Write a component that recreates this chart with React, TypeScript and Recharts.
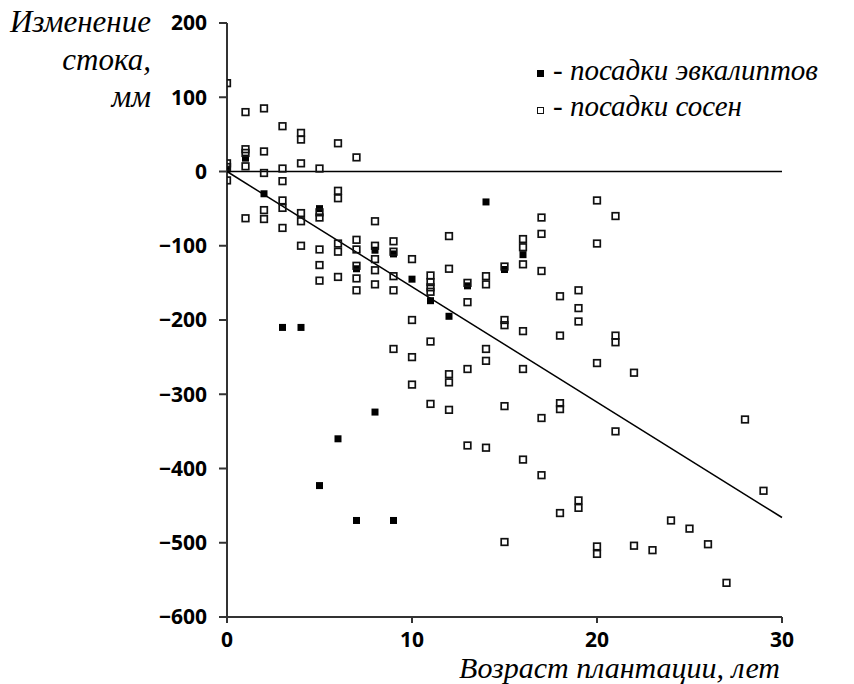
import {
  ScatterChart, Scatter, XAxis, YAxis, ReferenceLine,
} from 'recharts';

// age of plantation (years), change in runoff (mm)
const EUCALYPTUS: [number, number][] = [
  [0, 3], [1, 18], [2, -30], [3, -210], [4, -210], [5, -50], [5, -423], [6, -360],
  [7, -131], [7, -470], [8, -106], [8, -324], [9, -111], [9, -470], [10, -145],
  [11, -174], [12, -195], [13, -154], [14, -41], [15, -132], [16, -112],
];

const PINE: [number, number][] = [
  [0, 119], [0, 11], [0, 6], [0, -12],
  [1, 80], [1, 30], [1, 25], [1, 7], [1, -63],
  [2, 85], [2, 27], [2, -2], [2, -52], [2, -64],
  [3, 61], [3, 4], [3, -13], [3, -39], [3, -49], [3, -76],
  [4, 52], [4, 43], [4, 11], [4, -56], [4, -67], [4, -100],
  [5, 4], [5, -55], [5, -62], [5, -105], [5, -126], [5, -147],
  [6, 38], [6, -26], [6, -36], [6, -97], [6, -108], [6, -142],
  [7, 19], [7, -92], [7, -105], [7, -127], [7, -144], [7, -160],
  [8, -67], [8, -100], [8, -118], [8, -133], [8, -152],
  [9, -94], [9, -108], [9, -141], [9, -160], [9, -239],
  [10, -118], [10, -200], [10, -250], [10, -287],
  [11, -140], [11, -149], [11, -156], [11, -162], [11, -229], [11, -313],
  [12, -87], [12, -131], [12, -273], [12, -284], [12, -321],
  [13, -150], [13, -176], [13, -266], [13, -369],
  [14, -141], [14, -152], [14, -239], [14, -255], [14, -372],
  [15, -128], [15, -200], [15, -207], [15, -316], [15, -499],
  [16, -91], [16, -102], [16, -125], [16, -215], [16, -266], [16, -388],
  [17, -62], [17, -84], [17, -134], [17, -332], [17, -409],
  [18, -168], [18, -221], [18, -312], [18, -320], [18, -460],
  [19, -160], [19, -184], [19, -202], [19, -443], [19, -453],
  [20, -39], [20, -97], [20, -258], [20, -505], [20, -515],
  [21, -60], [21, -221], [21, -230], [21, -350],
  [22, -271], [22, -504],
  [23, -510], [24, -470], [25, -481], [26, -502], [27, -554], [28, -334], [29, -430],
];

// fitted trend line endpoints
const TREND: [number, number][] = [[0, 0], [30, -466]];

const X_TICKS = [0, 10, 20, 30];
const Y_TICKS = [-600, -500, -400, -300, -200, -100, 0, 100, 200];

const LEGEND_ITEMS = [
  { label: '- посадки эвкалиптов', filled: true },
  { label: '- посадки сосен', filled: false },
];

const Y_TITLE = ['Изменение', 'стока,', 'мм'];
const X_TITLE = 'Возраст плантации, лет';

const toPoints = (rows: [number, number][]) => rows.map(([x, y]) => ({ x, y }));

const SERIF = '"Liberation Serif", "DejaVu Serif", serif';
const SANS = '"Open Sans", "DejaVu Sans", sans-serif';

function FilledSquare(props: any) {
  const { cx, cy } = props;
  return <rect x={cx - 3.5} y={cy - 3.5} width={7} height={7} fill="#000" />;
}

function OpenSquare(props: any) {
  const { cx, cy } = props;
  return (
    <rect x={cx - 3.3} y={cy - 3.3} width={6.6} height={6.6} fill="none" stroke="#111" strokeWidth={1.7} />
  );
}

const fmt = (v: number) => String(v).replace('-', '\u2212');

const titleStyle = {
  position: 'absolute' as const,
  fontFamily: SERIF, fontStyle: 'italic', fontSize: 31, lineHeight: '37.5px', color: '#000',
  whiteSpace: 'nowrap' as const,
};

export default function App() {
  return (
    <div style={{ position: 'absolute', left: 0, top: 0, width: 854, height: 684, background: '#fff' }}>
      <ScatterChart width={854} height={684} margin={{ top: 23, right: 72, bottom: 0, left: 0 }}>
        <XAxis
          type="number" dataKey="x" domain={[0, 30]} ticks={X_TICKS} interval={0}
          height={67} tickSize={6} tickMargin={9}
          axisLine={{ stroke: '#333', strokeWidth: 2 }} tickLine={{ stroke: '#333', strokeWidth: 2 }}
          tick={{ fontFamily: SANS, fontSize: 21, fontWeight: 700, fill: '#000' }}
          allowDataOverflow
        />
        <YAxis
          type="number" dataKey="y" domain={[-600, 200]} ticks={Y_TICKS} interval={0}
          width={227} tickSize={8} tickMargin={12} tickFormatter={fmt}
          axisLine={{ stroke: '#333', strokeWidth: 2 }} tickLine={{ stroke: '#333', strokeWidth: 2 }}
          tick={{ fontFamily: SANS, fontSize: 21, fontWeight: 700, fill: '#000' }}
          allowDataOverflow
        />
        <ReferenceLine y={0} stroke="#000" strokeWidth={1.5} />
        <ReferenceLine
          segment={TREND.map(([x, y]) => ({ x, y }))}
          stroke="#000" strokeWidth={1.5}
        />
        <Scatter
          name="эвкалипты" data={toPoints(EUCALYPTUS)} shape={FilledSquare}
          isAnimationActive={false}
        />
        <Scatter
          name="сосны" data={toPoints(PINE)} shape={OpenSquare}
          isAnimationActive={false}
        />
      </ScatterChart>

      {/* legend */}
      {LEGEND_ITEMS.map((item, i) => (
        <div key={item.label}>
          <span
            style={{
              position: 'absolute', left: 537, top: 70 + 36.5 * i,
              width: item.filled ? 7 : 5, height: item.filled ? 7 : 5,
              background: item.filled ? '#000' : 'transparent',
              border: item.filled ? 'none' : '1.5px solid #111',
            }}
          />
          <div style={{ ...titleStyle, fontSize: 29, left: 553, top: 51.5 + 36.5 * i }}>{item.label}</div>
        </div>
      ))}

      {/* y-axis title */}
      <div style={{ ...titleStyle, left: 0, top: 3, width: 151, textAlign: 'right' }}>
        {Y_TITLE.map((line) => <div key={line}>{line}</div>)}
      </div>

      {/* x-axis title */}
      <div style={{ ...titleStyle, fontSize: 30, lineHeight: '28px', left: 0, top: 654, width: 780, textAlign: 'right' }}>
        {X_TITLE}
      </div>
    </div>
  );
}
